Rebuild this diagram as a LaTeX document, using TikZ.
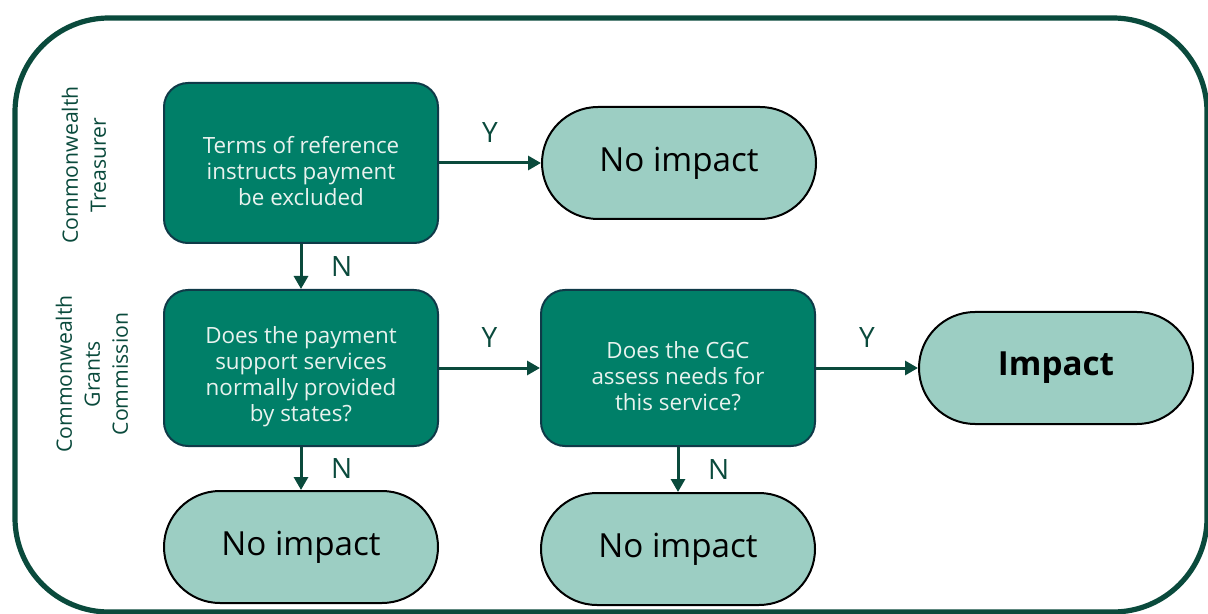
\documentclass[tikz,border=0pt]{standalone}
\usepackage{fontspec}
\setmainfont{Open Sans}
\usetikzlibrary{arrows.meta,positioning}
\definecolor{deepgreen}{HTML}{0A4A3C}
\definecolor{boxgreen}{HTML}{007F68}
\definecolor{boxline}{HTML}{0F3A48}
\definecolor{palegreen}{HTML}{9CCEC3}
\definecolor{boxtext}{HTML}{E8F2EE}
% extra room above the first line of a question
\newcommand{\qgap}{\rule{0pt}{17pt}}

\begin{document}
\begin{tikzpicture}[
		x=0.5pt, y=-0.5pt,
		every node/.style={align=center},
		question/.style={rectangle, rounded corners=12pt, draw=boxline, line width=1pt,
				fill=boxgreen, text=boxtext, minimum width=137pt, minimum height=78pt,
				inner sep=2pt, font=\fontsize{11.2}{13}\selectfont},
		outcome/.style={rectangle, rounded corners=28pt, draw=black, line width=1pt,
				fill=palegreen, minimum width=137pt, minimum height=56pt,
				inner sep=2pt, font=\fontsize{16.6}{18}\selectfont},
		lane/.style={rotate=90, text=deepgreen, font=\fontsize{10.6}{14}\selectfont},
		answer/.style={text=deepgreen, font=\fontsize{14}{16}\selectfont},
		arr/.style={-{Triangle[length=6.5pt,width=7pt]}, line width=1.5pt, deepgreen},
		]
		\useasboundingbox (0,0) rectangle (1208,614);

		% Rahmen
		\draw[deepgreen, line width=2.6pt, rounded corners=47pt] (15,18) rectangle (1207,612);

		% Zuständigkeiten
		\node[lane] (treas) at (84,165) {Commonwealth\\Treasurer};
		\node[lane] (cgc)   at (92,374) {Commonwealth\\Grants\\Commission};

		% Fragen
		\node[question, minimum height=80pt] (terms) at (301,163)
		{\qgap Terms of reference\\instructs payment\\be excluded};
		\node[question, below=22.5pt of terms]  (states)
		{\qgap Does the payment\\support services\\normally provided\\by states?};
		\node[question, right=50.5pt of states] (needs)
		{\qgap Does the CGC\\assess needs for\\this service?};

		% Ergebnisse
		\node[outcome, right=51pt of terms]   (noimp1) {No impact};
		\node[outcome, below=21.5pt of states] (noimp2) {No impact};
		\node[outcome, below=22.5pt of needs]  (noimp3) {No impact};
		\node[outcome, right=51pt of needs]    (impact) {\bfseries Impact};

		% Verbindungen
		\draw[arr] (terms)  -- node[answer, above=6pt] {Y} (noimp1);
		\draw[arr] (terms)  -- node[answer, right=11pt] {N} (states);
		\draw[arr] (states) -- node[answer, above=6pt] {Y} (needs);
		\draw[arr] (needs)  -- node[answer, above=6pt] {Y} (impact);
		\draw[arr] (states) -- node[answer, right=11pt] {N} (noimp2);
		\draw[arr] (needs)  -- node[answer, right=11pt] {N} (noimp3);

	\end{tikzpicture}
\end{document}
